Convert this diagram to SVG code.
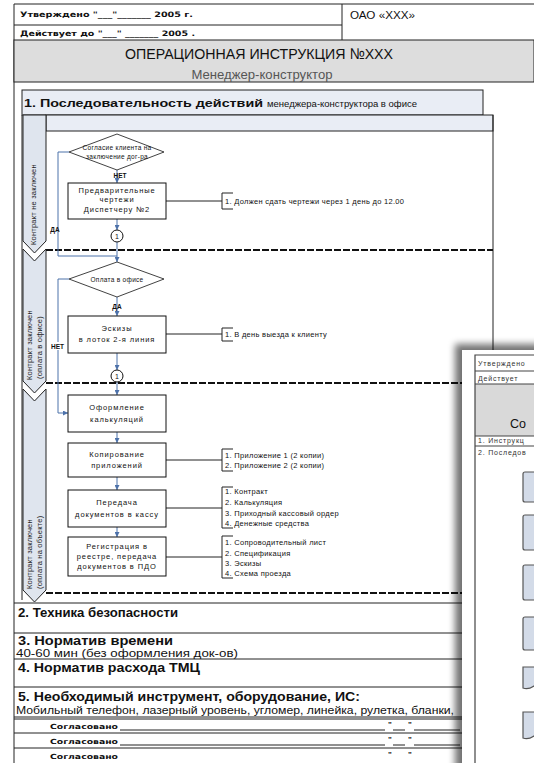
<svg xmlns="http://www.w3.org/2000/svg" width="534" height="763" viewBox="0 0 534 763">
<defs>
<style>
text{font-family:"Liberation Sans",Arial,sans-serif;fill:#111}
.fc{font-size:7.5px;letter-spacing:0.9px;text-anchor:middle}
.dt{font-size:6.5px;letter-spacing:0.3px;text-anchor:middle}
.an{font-size:7.5px;letter-spacing:0.3px}
.lt{font-size:7.5px;letter-spacing:0.2px;fill:#222}
.box{fill:#fff;stroke:#111;stroke-width:1}
.dia{fill:#fff;stroke:#111;stroke-width:0.8}
.flow{fill:none;stroke:#4d72aa;stroke-width:1}
.link{fill:none;stroke:#222;stroke-width:1}
.dash{stroke:#111;stroke-width:2;stroke-dasharray:7 2;fill:none}
.rule{stroke:#222;stroke-width:1;fill:none}
.lane{fill:#dfe5ee;stroke:#222;stroke-width:1}
.sec{font-size:12.5px;font-weight:bold}
.sig{font-family:"DejaVu Sans",sans-serif;font-size:7px;font-weight:bold}
.hd{font-family:"DejaVu Sans",sans-serif;font-size:7.5px;font-weight:bold}
.pbox{fill:#d3dbe8;stroke:#555;stroke-width:1.2}
.pt{font-size:7px;letter-spacing:0.8px;fill:#333}
</style>
<marker id="arr" viewBox="0 0 6 6" refX="6" refY="3" markerWidth="5" markerHeight="5" orient="auto"><path d="M0,0 L6,3 L0,6 z" fill="#4d72aa"/></marker>
<filter id="sh" x="-50%" y="-20%" width="200%" height="140%"><feGaussianBlur stdDeviation="3.5"/></filter>
</defs>
<rect width="534" height="763" fill="#fff"/>

<g id="header">
<path class="rule" d="M14,4 H534 M14,4 V763 M14,25 H342 M342,4 V40"/>
<rect x="14" y="40" width="520" height="42" fill="#dddddd" stroke="#222"/>
<text class="hd" x="20" y="17" textLength="173" lengthAdjust="spacingAndGlyphs">Утверждено "___"_______ 2005 г.</text>
<text class="hd" x="20" y="36" textLength="175" lengthAdjust="spacingAndGlyphs">Действует до "___" _______ 2005 .</text>
<text x="350" y="19" font-size="10" fill="#222" textLength="65" lengthAdjust="spacingAndGlyphs">ОАО «XXX»</text>
<text x="259" y="59" font-size="15.5" text-anchor="middle" textLength="268" lengthAdjust="spacingAndGlyphs">ОПЕРАЦИОННАЯ ИНСТРУКЦИЯ №XXX</text>
<text x="262" y="79" font-size="13.5" text-anchor="middle" style="fill:#555" textLength="141" lengthAdjust="spacingAndGlyphs">Менеджер-конструктор</text>
</g>

<g id="section1">
<rect x="22" y="90" width="461" height="25" fill="#e9edf5" stroke="#222"/>
<text x="24" y="107" font-size="10.5"><tspan font-weight="bold" textLength="239" lengthAdjust="spacingAndGlyphs">1. Последовательность действий</tspan><tspan dx="4" font-size="9.5">менеджера-конструктора в офисе</tspan></text>
<rect x="46" y="115" width="447" height="16" fill="#e9edf5" stroke="#222"/>
<path class="rule" d="M22,115 V600 M493,115 V600"/>
</g>

<g id="lanes">
<polygon class="lane" points="23,115 46,115 46,241 34.5,253 23,241"/>
<polygon class="lane" points="23,249 34.5,261 46,249 46,381 34.5,393 23,381"/>
<polygon class="lane" points="23,389 34.5,401 46,389 46,590 34.5,602 23,590"/>
<text class="lt" transform="translate(36,245) rotate(-90)">Контракт не заключен</text>
<text class="lt" transform="translate(32,380) rotate(-90)">Контракт заключен</text>
<text class="lt" transform="translate(41.5,379) rotate(-90)">(оплата в офисе)</text>
<text class="lt" transform="translate(32,589) rotate(-90)">Контракт заключен</text>
<text class="lt" transform="translate(41.5,589) rotate(-90)">(оплата на объекте)</text>
<path class="dash" d="M46,250 H493 M46,383 H493 M46,593 H493"/>
</g>

<g id="connectors">
<path class="flow" d="M117,170 V183" marker-end="url(#arr)"/>
<path class="flow" d="M117,219 V230" marker-end="url(#arr)"/>
<path class="flow" d="M117,242 V262" marker-end="url(#arr)"/>
<path class="flow" d="M69,152 H58 V256 H117"/>
<path class="flow" d="M117,297 V316" marker-end="url(#arr)"/>
<path class="flow" d="M117,353 V370" marker-end="url(#arr)"/>
<path class="flow" d="M117,382 V395" marker-end="url(#arr)"/>
<path class="flow" d="M69,279 H58 V413 H68" marker-end="url(#arr)"/>
<path class="flow" d="M117,432 V443" marker-end="url(#arr)"/>
<path class="flow" d="M117,477 V490" marker-end="url(#arr)"/>
<path class="flow" d="M117,527 V537" marker-end="url(#arr)"/>
<path class="link" d="M166,201 H222 M233,193 H222 V209 H233"/>
<path class="link" d="M166,334 H222 M233,328 H222 V341 H233"/>
<path class="link" d="M166,460 H222 M233,449 H222 V471 H233"/>
<path class="link" d="M166,508 H222 M233,487 H222 V528 H233"/>
<path class="link" d="M166,557 H222 M233,536 H222 V578 H233"/>
<text x="55" y="232" font-size="6.5" font-weight="bold" text-anchor="middle">ДА</text>
<text x="120" y="178" font-size="6.5" font-weight="bold" text-anchor="middle">НЕТ</text>
<text x="117" y="309" font-size="6.5" font-weight="bold" text-anchor="middle">ДА</text>
<rect x="50" y="342" width="15" height="8" fill="#fff"/>
<text x="57.5" y="349" font-size="6.5" font-weight="bold" text-anchor="middle">НЕТ</text>
</g>

<g id="d1">
<polygon class="dia" points="69,152 117,134 164,152 117,170"/>
<text class="dt" x="117" y="150">Согласие клиента на</text>
<text class="dt" x="117" y="159">заключение дог-ра</text>
</g>
<g id="r1">
<rect class="box" x="68" y="183" width="98" height="36"/>
<text class="fc" x="117" y="193">Предварительные</text>
<text class="fc" x="117" y="202">чертежи</text>
<text class="fc" x="117" y="212">Диспетчеру №2</text>
</g>
<g id="c1">
<circle cx="117" cy="236" r="6" fill="#fff" stroke="#111"/>
<text x="117" y="238.5" font-size="7" text-anchor="middle">1</text>
</g>
<g id="n1">
<text class="an" x="225" y="204">1. Должен сдать чертежи через 1 день до 12.00</text>
</g>

<g id="d2">
<polygon class="dia" points="69,279 117,262 164,279 117,297"/>
<text class="dt" x="117" y="281.5">Оплата в офисе</text>
</g>
<g id="r2">
<rect class="box" x="68" y="316" width="98" height="37"/>
<text class="fc" x="117" y="331">Эскизы</text>
<text class="fc" x="117" y="342">в лоток 2-я линия</text>
</g>
<g id="c2">
<circle cx="117" cy="376" r="6" fill="#fff" stroke="#111"/>
<text x="117" y="378.5" font-size="7" text-anchor="middle">1</text>
</g>
<g id="n2">
<text class="an" x="225" y="337">1. В день выезда к клиенту</text>
</g>

<g id="r3">
<rect class="box" x="68" y="395" width="98" height="37"/>
<text class="fc" x="117" y="410">Оформление</text>
<text class="fc" x="117" y="422">калькуляций</text>
</g>
<g id="r4">
<rect class="box" x="68" y="443" width="98" height="34"/>
<text class="fc" x="117" y="457">Копирование</text>
<text class="fc" x="117" y="468">приложений</text>
</g>
<g id="n4">
<text class="an" x="225" y="458">1. Приложение 1 (2 копии)</text>
<text class="an" x="225" y="468">2. Приложение 2 (2 копии)</text>
</g>
<g id="r5">
<rect class="box" x="68" y="490" width="98" height="37"/>
<text class="fc" x="117" y="505">Передача</text>
<text class="fc" x="117" y="517">документов в кассу</text>
</g>
<g id="n5">
<text class="an" x="225" y="494">1. Контракт</text>
<text class="an" x="225" y="505">2. Калькуляция</text>
<text class="an" x="225" y="516">3. Приходный кассовый ордер</text>
<text class="an" x="225" y="526">4. Денежные средства</text>
</g>
<g id="r6">
<rect class="box" x="68" y="537" width="98" height="39"/>
<text class="fc" x="117" y="549">Регистрация в</text>
<text class="fc" x="117" y="559">реестре, передача</text>
<text class="fc" x="117" y="569">документов в ПДО</text>
</g>
<g id="n6">
<text class="an" x="225" y="545">1. Сопроводительный лист</text>
<text class="an" x="225" y="556">2. Спецификация</text>
<text class="an" x="225" y="566">3. Эскизы</text>
<text class="an" x="225" y="576">4. Схема проезда</text>
</g>

<g id="sections">
<path class="rule" d="M14,603 H534 M14,633 H534 M14,659 H534 M14,687 H534 M14,717 H534 M14,719 H534 M14,733 H534 M14,748 H534"/>
<text class="sec" x="18" y="617" textLength="160" lengthAdjust="spacingAndGlyphs">2. Техника безопасности</text>
<text class="sec" x="18" y="645" textLength="155" lengthAdjust="spacingAndGlyphs">3. Норматив времени</text>
<text x="16" y="657" font-size="10" textLength="222" lengthAdjust="spacingAndGlyphs">40-60 мин (без оформления док-ов)</text>
<text class="sec" x="18" y="672" textLength="182" lengthAdjust="spacingAndGlyphs">4. Норматив расхода ТМЦ</text>
<text class="sec" x="18" y="701" textLength="342" lengthAdjust="spacingAndGlyphs">5. Необходимый инструмент, оборудование, ИС:</text>
<text x="16" y="714" font-size="10.5" textLength="438" lengthAdjust="spacingAndGlyphs">Мобильный телефон, лазерный уровень, угломер, линейка, рулетка, бланки,</text>
<g id="sig1">
<text class="sig" x="50" y="729" textLength="68" lengthAdjust="spacingAndGlyphs">Согласовано</text>
<path class="rule" d="M120,730 H385 M393,730 H405 M414,730 H460"/>
<text x="388" y="727" font-size="8" font-weight="bold">"</text><text x="408" y="727" font-size="8" font-weight="bold">"</text>
</g>
<g id="sig2">
<text class="sig" x="50" y="744" textLength="68" lengthAdjust="spacingAndGlyphs">Согласовано</text>
<path class="rule" d="M120,745 H385 M393,745 H405 M414,745 H460"/>
<text x="388" y="742" font-size="8" font-weight="bold">"</text><text x="408" y="742" font-size="8" font-weight="bold">"</text>
</g>
<g id="sig3">
<text class="sig" x="50" y="759" textLength="68" lengthAdjust="spacingAndGlyphs">Согласовано</text>
<text x="388" y="757" font-size="8" font-weight="bold">"</text><text x="408" y="757" font-size="8" font-weight="bold">"</text>
</g>
</g>

<g id="page2">
<rect x="455" y="344" width="100" height="430" fill="#000" opacity="0.55" filter="url(#sh)"/>
<rect x="462" y="350" width="80" height="420" fill="#fff"/>
<rect x="475" y="384" width="60" height="52" fill="#d9d9d9"/>
<path d="M534,355 H475 V763 M475,371 H534 M475,384 H534 M475,436 H534 M475,446 H534" fill="none" stroke="#444" stroke-width="1.2"/>
<text class="pt" x="478" y="366">Утверждено</text>
<text class="pt" x="478" y="381">Действует</text>
<text x="510" y="428" font-size="12.5" fill="#222">Со</text>
<text class="pt" x="478" y="443" font-size="6">1. Инструкц</text>
<text class="pt" x="478" y="455" font-size="6">2. Последов</text>
<rect class="pbox" x="523" y="472" width="20" height="30" rx="2"/>
<rect class="pbox" x="523" y="515" width="20" height="35" rx="2"/>
<rect class="pbox" x="523" y="565" width="20" height="35" rx="2"/>
<rect class="pbox" x="523" y="617" width="20" height="33" rx="2"/>
<path class="pbox" d="M543,667 H523 V688 Q528,690 534,686 T545,685 V667 Z"/>
<path class="pbox" d="M543,712 H523 V738 Q528,740 534,736 T545,735 V712 Z"/>
</g>
</svg>
